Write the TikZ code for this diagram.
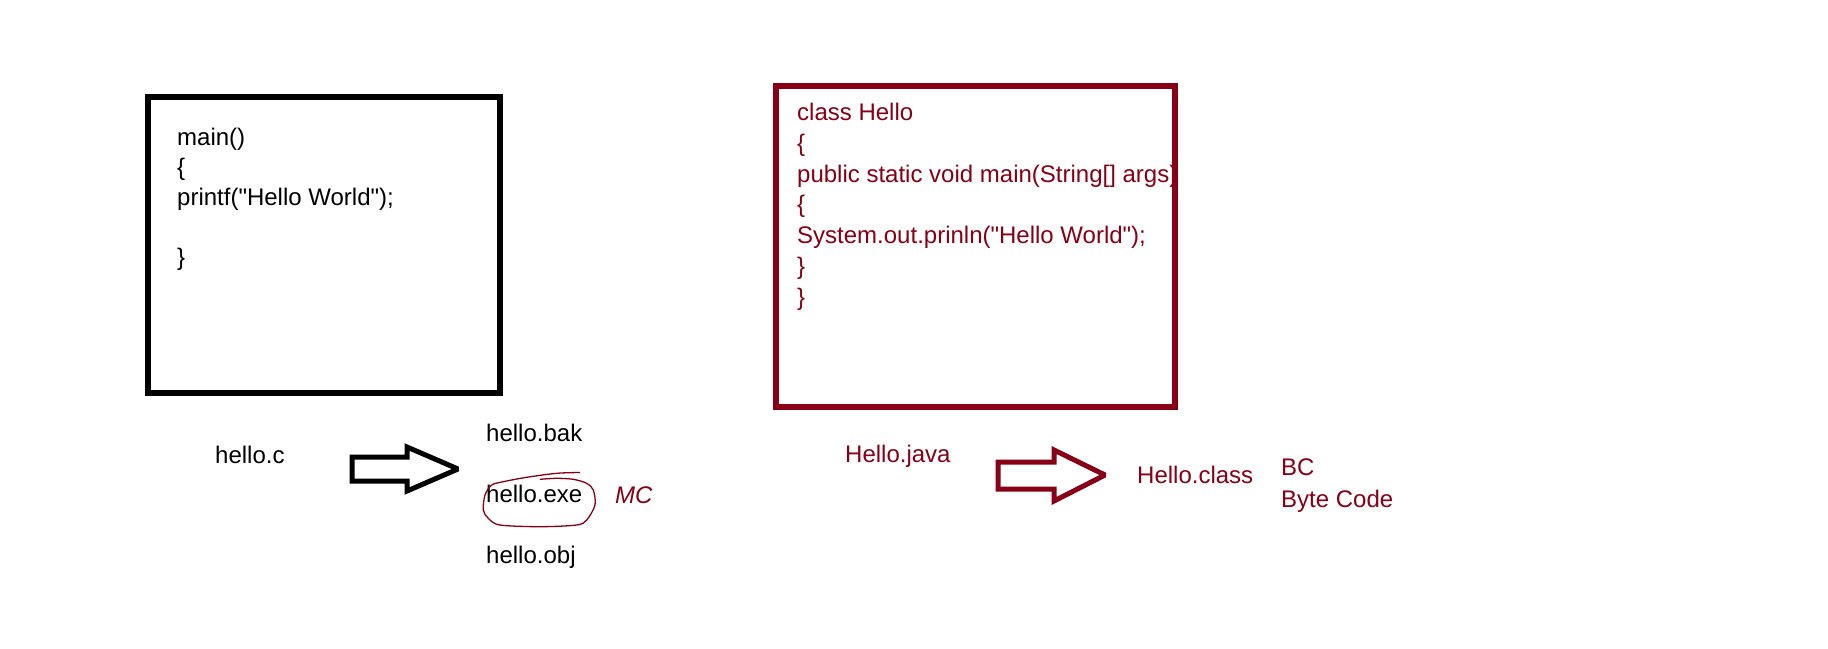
\documentclass[tikz,border=0pt]{standalone}
\usepackage{fontspec}
\setmainfont{Liberation Sans}
\usepackage{tikz}
\definecolor{javared}{RGB}{136,0,21}

\begin{document}
\begin{tikzpicture}[x=1pt,y=-1pt,
    codeline/.style={anchor=base west,inner sep=0pt,font=\fontsize{24}{30}\selectfont},
    srcbox/.style={line width=6pt},
    blockarrow/.style={line width=5pt,line join=miter,miter limit=2}]
    \useasboundingbox (0,0) rectangle (1828,648);

    % C source
    \draw[srcbox] (148,97) rectangle (500,393);
    \node[codeline] (c1) at (177,145) {main()};
    \node[codeline] (c2) at (177,175) {\{};
    \node[codeline] (c3) at (177,205) {printf(\textquotedbl Hello World\textquotedbl);};
    \node[codeline] (c4) at (177,265) {\}};

    % Java source
    \draw[srcbox,javared] (776,86) rectangle (1175,407);
    \node[codeline,javared] (j1) at (797,120) {class Hello};
    \node[codeline,javared] (j2) at (797,151) {\{};
    \node[codeline,javared] (j3) at (797,182) {public static void main(String[] args)};
    \node[codeline,javared] (j4) at (797,212) {\{};
    \node[codeline,javared] (j5) at (797,243) {System.out.prinln(\textquotedbl Hello World\textquotedbl);};
    \node[codeline,javared] (j6) at (797,274) {\}};
    \node[codeline,javared] (j7) at (797,305) {\}};

    % C files
    \node[codeline] (hc) at (215,463) {hello.c};
    \draw[blockarrow] (352,457) -- (407,457) -- (407,447) -- (458,469)
        -- (407,491) -- (407,481) -- (352,481) -- cycle;
    \node[codeline] (hbak) at (486,441) {hello.bak};
    \node[codeline] (hexe) at (486,502) {hello.exe};
    \node[codeline] (hobj) at (486,563) {hello.obj};
    \draw[javared,line width=1.3pt] plot[smooth] coordinates {
        (580,472.5) (556.7,473.3) (526.7,477.3) (503.3,481.7) (491.7,485)
        (485,495) (483.3,510) (488.3,518.3) (500,525) (540,526.7)
        (576.7,525) (586.7,520) (595,505) (593.3,490) (586.7,483.3)
        (573.3,479.3) (556.7,478.3) (540,479.3)};
    \node[codeline,javared,font=\fontsize{24}{30}\selectfont\itshape] (mc) at (615,503) {MC};

    % Java files
    \node[codeline,javared] (hjava) at (845,462) {Hello.java};
    \draw[blockarrow,javared] (998,462) -- (1054,462) -- (1054,450) -- (1105,475)
        -- (1054,501) -- (1054,489) -- (998,489) -- cycle;
    \node[codeline,javared] (hclass) at (1137,483) {Hello.class};
    \node[codeline,javared] (bc) at (1281,475) {BC};
    \node[codeline,javared] (bcode) at (1281,507) {Byte Code};
\end{tikzpicture}
\end{document}
